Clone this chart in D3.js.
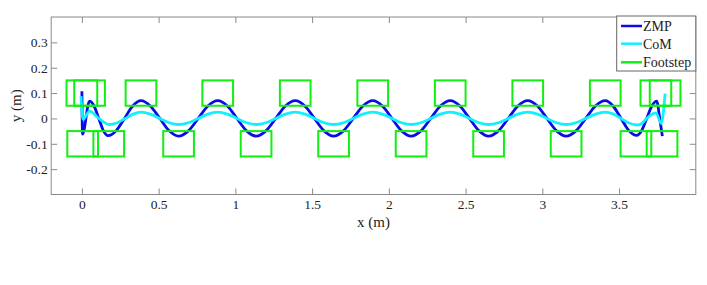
<!DOCTYPE html>
<html>
<head>
<meta charset="utf-8">
<script src="https://cdn.jsdelivr.net/npm/d3@7"></script>
<style>
  body { margin: 0; background: #fff; }
  svg { display: block; }
  text { font-family: "Liberation Serif", "Times New Roman", serif; }
</style>
</head>
<body>
<div id="chart"></div>
<script>
// tick values
const xTicks = [0, 0.5, 1, 1.5, 2, 2.5, 3, 3.5];
const yTicks = [-0.2, -0.1, 0, 0.1, 0.2, 0.3];

// ZMP trajectory (m)
const zmpX = [0, 0.004, 0.05, 0.08, 0.11, 0.14, 0.17, 0.224, 0.2775, 0.331,
  0.385, 0.446, 0.508, 0.569, 0.63, 0.694, 0.758, 0.821, 0.885, 0.948, 1.01, 1.073,
  1.135, 1.199, 1.263, 1.326, 1.39, 1.453, 1.515, 1.578, 1.64, 1.704, 1.768, 1.831,
  1.895, 1.958, 2.02, 2.083, 2.145, 2.209, 2.273, 2.336, 2.40, 2.463, 2.525, 2.588,
  2.65, 2.714, 2.778, 2.841, 2.905, 2.968, 3.03, 3.093, 3.155, 3.219, 3.283, 3.346,
  3.41, 3.461, 3.513, 3.564, 3.615, 3.648, 3.68, 3.713, 3.745, 3.765, 3.782];
const zmpY = [0.107, -0.062, 0.068, 0.048, 0.0, -0.048, -0.068, -0.048, 0.0, 0.049,
  0.07, 0.049, 0.0, -0.049, -0.07, -0.049, 0.0, 0.049, 0.07, 0.049, 0.0, -0.049,
  -0.07, -0.049, 0.0, 0.049, 0.07, 0.049, 0.0, -0.049, -0.07, -0.049, 0.0, 0.049,
  0.07, 0.049, 0.0, -0.049, -0.07, -0.049, 0.0, 0.049, 0.07, 0.049, 0.0, -0.049,
  -0.07, -0.049, 0.0, 0.049, 0.07, 0.049, 0.0, -0.049, -0.07, -0.049, 0.0, 0.049,
  0.07, 0.049, 0.0, -0.048, -0.067, -0.047, 0.0, 0.048, 0.068, 0.0, -0.07];

// CoM trajectory (m)
const comX = [-0.006, 0.007, 0.05, 0.11, 0.18, 0.231, 0.283, 0.334,
  0.385, 0.446, 0.508, 0.569, 0.63, 0.694, 0.758, 0.821, 0.885, 0.948, 1.01, 1.073,
  1.135, 1.199, 1.263, 1.326, 1.39, 1.453, 1.515, 1.578, 1.64, 1.704, 1.768, 1.831,
  1.895, 1.958, 2.02, 2.083, 2.145, 2.209, 2.273, 2.336, 2.40, 2.463, 2.525, 2.588,
  2.65, 2.714, 2.778, 2.841, 2.905, 2.968, 3.03, 3.093, 3.155, 3.219, 3.283, 3.346,
  3.41, 3.461, 3.513, 3.564, 3.62, 3.65, 3.68, 3.71, 3.74, 3.775, 3.80];
const comY = [0.088, -0.004, 0.029, 0.0, -0.024, -0.017, 0.0, 0.017,
  0.025, 0.017, 0.0, -0.017, -0.024, -0.017, 0.0, 0.017, 0.025, 0.017, 0.0, -0.017,
  -0.024, -0.017, 0.0, 0.017, 0.025, 0.017, 0.0, -0.017, -0.024, -0.017, 0.0, 0.017,
  0.025, 0.017, 0.0, -0.017, -0.024, -0.017, 0.0, 0.017, 0.025, 0.017, 0.0, -0.017,
  -0.024, -0.017, 0.0, 0.017, 0.025, 0.017, 0.0, -0.017, -0.024, -0.017, 0.0, 0.017,
  0.025, 0.018, 0.0, -0.018, -0.026, -0.019, 0.0, 0.015, 0.022, -0.02, 0.098];

// footstep centres (m); foot size 0.2 x 0.1
const footX = [0, 0.05, 0.385, 0.885, 1.39, 1.895, 2.40, 2.905, 3.41, 3.74, 3.80,
  0.005, 0.175, 0.63, 1.135, 1.64, 2.145, 2.65, 3.155, 3.61, 3.78];
const footY = [0.1, 0.1, 0.1, 0.1, 0.1, 0.1, 0.1, 0.1, 0.1, 0.1, 0.1,
  -0.1, -0.1, -0.1, -0.1, -0.1, -0.1, -0.1, -0.1, -0.1, -0.1];
const footLen = 0.2, footWid = 0.1;

const seriesNames = ["ZMP", "CoM", "Footstep"];
const seriesColors = ["#0b0be8", "#10f0ff", "#10f010"];

const W = 707, H = 285;
const mLeft = 51.2, mRight = 695.8, mTop = 17, mBottom = 194.5;

const svg = d3.select("#chart").append("svg")
  .attr("width", W).attr("height", H);

const x = d3.scaleLinear().domain([-0.2, 4]).range([mLeft, mRight]);
const y = d3.scaleLinear().domain([-0.3, 0.4]).range([mBottom, mTop]);

const fmt = d => String(d);
const axisGray = "#8a8a8a";

// axes (ticks pointing inward, MATLAB style)
const gx = svg.append("g").attr("transform", `translate(0,${mBottom})`)
  .call(d3.axisBottom(x).tickValues(xTicks).tickFormat(fmt).tickSizeInner(-6).tickSizeOuter(0).tickPadding(4.5));
const gxt = svg.append("g").attr("transform", `translate(0,${mTop})`)
  .call(d3.axisTop(x).tickValues(xTicks).tickFormat("").tickSizeInner(-6).tickSizeOuter(0));
const gy = svg.append("g").attr("transform", `translate(${mLeft},0)`)
  .call(d3.axisLeft(y).tickValues(yTicks).tickFormat(fmt).tickSizeInner(-6).tickSizeOuter(0).tickPadding(3.5));
const gyr = svg.append("g").attr("transform", `translate(${mRight},0)`)
  .call(d3.axisRight(y).tickValues(yTicks).tickFormat("").tickSizeInner(-6).tickSizeOuter(0));

[gx, gxt, gy, gyr].forEach(g => {
  g.select(".domain").remove();
  g.selectAll(".tick line").attr("stroke", axisGray);
  g.selectAll(".tick text")
    .attr("fill", "#222")
    .style("font-size", "13.5px")
    .style("font-family", "'Liberation Serif', 'Times New Roman', serif");
});

svg.append("rect")
  .attr("x", mLeft).attr("y", mTop)
  .attr("width", mRight - mLeft).attr("height", mBottom - mTop)
  .attr("fill", "none").attr("stroke", axisGray).attr("stroke-width", 1);

// axis labels
svg.append("text")
  .attr("x", (mLeft + mRight) / 2).attr("y", 227)
  .attr("text-anchor", "middle")
  .style("font-size", "15px").attr("fill", "#222")
  .text("x (m)");
svg.append("text")
  .attr("transform", `translate(21,${(mTop + mBottom) / 2}) rotate(-90)`)
  .attr("text-anchor", "middle")
  .style("font-size", "15px").attr("fill", "#222")
  .text("y (m)");

// lines
const zmp = zmpX.map((v, i) => [v, zmpY[i]]);
const com = comX.map((v, i) => [v, comY[i]]);
const line = d3.line()
  .x(d => x(d[0])).y(d => y(d[1]))
  .curve(d3.curveMonotoneX);

const plot = svg.append("g");
plot.append("path").datum(zmp)
  .attr("d", line)
  .attr("fill", "none").attr("stroke", seriesColors[0]).attr("stroke-width", 2.8)
  .attr("stroke-linejoin", "round");
plot.append("path").datum(com)
  .attr("d", line)
  .attr("fill", "none").attr("stroke", seriesColors[1]).attr("stroke-width", 2.8)
  .attr("stroke-linejoin", "round");

// footsteps
plot.selectAll(".foot")
  .data(footX.map((v, i) => ({ x: v, y: footY[i] })))
  .enter().append("rect")
  .attr("class", "foot")
  .attr("x", d => x(d.x - footLen / 2))
  .attr("y", d => y(d.y + footWid / 2))
  .attr("width", d => x(d.x + footLen / 2) - x(d.x - footLen / 2))
  .attr("height", d => y(d.y - footWid / 2) - y(d.y + footWid / 2))
  .attr("fill", "none")
  .attr("stroke", seriesColors[2])
  .attr("stroke-width", 2);

// legend
const lg = svg.append("g");
lg.append("rect")
  .attr("x", 616.7).attr("y", 16)
  .attr("width", mRight - 616.7).attr("height", 55)
  .attr("fill", "#fff").attr("stroke", "#666").attr("stroke-width", 1);
const rowY = [26, 43.7, 62.3];
seriesNames.forEach((name, i) => {
  lg.append("line")
    .attr("x1", 621).attr("x2", 642)
    .attr("y1", rowY[i]).attr("y2", rowY[i])
    .attr("stroke", seriesColors[i]).attr("stroke-width", 2.5);
  lg.append("text")
    .attr("x", 643).attr("y", rowY[i] + 5)
    .style("font-size", "14px").attr("fill", "#222")
    .text(name);
});
</script>
</body>
</html>
